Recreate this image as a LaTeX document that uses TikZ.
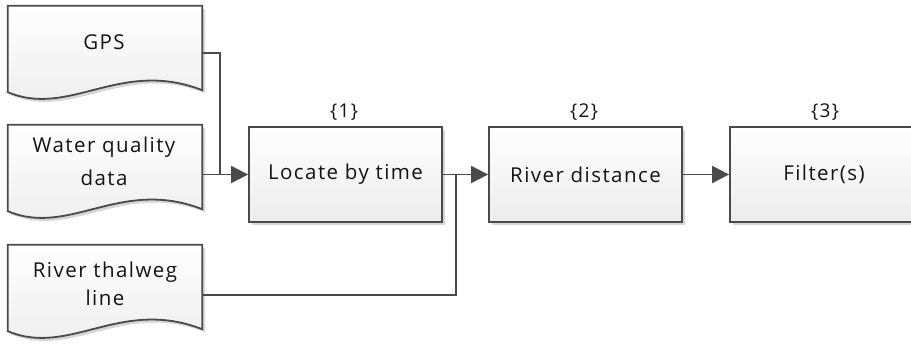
\documentclass[tikz,border=0pt]{standalone}
\usepackage{fontspec}
\setmainfont[LetterSpace=7]{Open Sans}
\usetikzlibrary{arrows.meta,shadows,calc}

\definecolor{edgegray}{HTML}{4A4A4A}
\definecolor{inkgray}{HTML}{141414}
\definecolor{fillbottom}{HTML}{ECECEC}

\tikzset{
  shade fill/.style={top color=white, bottom color=fillbottom},
  soft shadow/.style={drop shadow={shadow xshift=3pt, shadow yshift=-3pt, opacity=0.16, fill=black}},
  procbox/.style={draw=edgegray, line width=1.8pt, shade fill, soft shadow,
    minimum width=193pt, minimum height=95pt, inner sep=0pt,
    font=\fontsize{20.5}{24}\selectfont, text=inkgray},
  docframe/.style={minimum width=194pt, minimum height=86pt, inner sep=0pt},
  docline/.style={draw=edgegray, line width=1.8pt, shade fill, soft shadow},
  doctext/.style={align=center, inner sep=0pt, text=inkgray},
  numlabel/.style={inner sep=0pt, text=inkgray, font=\fontsize{19}{22}\selectfont},
  conn/.style={draw=edgegray, line width=1.9pt},
  flow/.style={conn, -{Triangle[length=17pt, width=17pt]}},
}

% document symbol: straight top and sides, wavy bottom edge
\newcommand{\docoutline}[1]{%
  \path[docline] (#1.north west) -- (#1.south west)
    .. controls +(62,26) and +(-82,-32) .. ([yshift=2pt]#1.south east)
    -- (#1.north east) -- cycle;}

\begin{document}
\begin{tikzpicture}[x=1pt, y=-1pt]
\useasboundingbox (0,0) rectangle (911,346);
\clip (0,0) rectangle (911,346);

% input documents
\node[docframe] (gps)   at (105,49)  {};
\node[docframe] (wq)    at (105,168) {};
\node[docframe] (river) at (105,288) {};
\docoutline{gps}
\docoutline{wq}
\docoutline{river}
\node[doctext, font=\fontsize{20.5}{24}\selectfont] (gpst) at (104,42) {GPS};
\node[doctext, font=\fontsize{20.5}{33}\selectfont] (wqt) at (104,161) {Water quality\\data};
\node[doctext, font=\fontsize{20.5}{28}\selectfont] (rivert) at (105,284) {River thalweg\\line};

% processing steps
\node[procbox] (locate) at (345.5,174.5) {Locate by time};
\node[procbox] (dist)   at (585.5,174.5) {River distance};
\node[procbox] (filt)   at (826.5,174.5) {\hspace*{-5pt}Filter(s)};

\node[numlabel] (n1) at (344,112) {\{1\}};
\node[numlabel] (n2) at (584,112) {\{2\}};
\node[numlabel] (n3) at (825,112) {\{3\}};

% junction points of the merging lines
\coordinate (j1) at (220,174.5);
\coordinate (j2) at (456,174.5);

% connectors
\draw[conn] ([yshift=-4pt]gps.east) -| (j1);
\draw[flow] (wq.east |- locate.west) -- (locate.west);
\draw[conn] ([yshift=-7pt]river.east) -| (j2);
\draw[flow] (locate) -- (dist);
\draw[flow] (dist) -- (filt);
\end{tikzpicture}
\end{document}
